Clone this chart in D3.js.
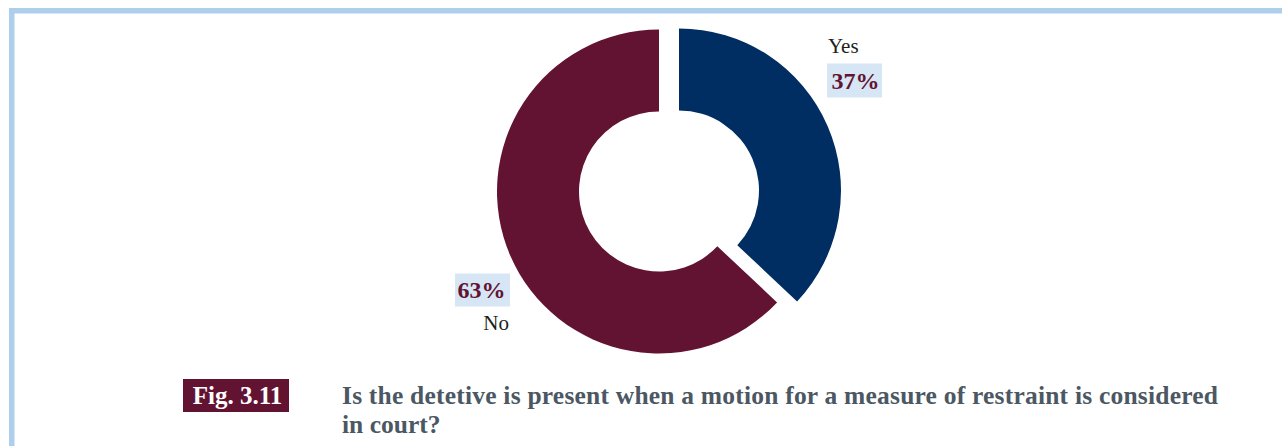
<!DOCTYPE html>
<html>
<head>
<meta charset="utf-8">
<script src="https://cdn.jsdelivr.net/npm/d3@7"></script>
<style>
  html, body { margin: 0; padding: 0; background: #ffffff; }
  svg { display: block; }
</style>
</head>
<body>
<svg id="chart" width="1282" height="446"></svg>
<script>
// Survey answers
const categories = ["Yes", "No"];
const values = [37, 63];
const valueLabels = ["37%", "63%"];
const sliceColors = ["#002e62", "#631332"];

const figureNumber = "Fig. 3.11";
const captionLines = [
  "Is the detetive is present when a motion for a measure of restraint is considered",
  "in court?"
];

const W = 1282, H = 446;
const svg = d3.select("#chart");
const serif = "'Liberation Serif', 'DejaVu Serif', serif";

// Page frame (top and left rules)
svg.append("rect").attr("x", 9).attr("y", 8).attr("width", W).attr("height", H)
  .attr("fill", "none").attr("stroke", "#aecfec").attr("stroke-width", 5.5)
  .attr("transform", "translate(2.75,2.75)");

// Donut
const cx = 659, cy = 191.5;
const outerR = 162, innerR = 80;
const explode = [[20, -1], [0, 0]];   // the "Yes" wedge is pulled out to the right

const pie = d3.pie().sort(null).value(d => d.value);
const arcs = pie(categories.map((c, i) => ({ cat: c, value: values[i], i })));
const arc = d3.arc().innerRadius(innerR).outerRadius(outerR);

const g = svg.append("g").attr("transform", `translate(${cx},${cy})`);
g.selectAll("path.slice").data(arcs).join("path")
  .attr("class", "slice")
  .attr("d", arc)
  .attr("fill", d => sliceColors[d.data.i])
  .attr("transform", d => `translate(${explode[d.data.i][0]},${explode[d.data.i][1]})`);

// Category labels with percentage badges
const labelSpec = [
  { name: { x: 828, y: 53, anchor: "start" }, pct: { x: 827, y: 63.5, w: 55, h: 34, tx: 831.5, ty: 88.5, anchor: "start" } },
  { name: { x: 509, y: 330, anchor: "end" },  pct: { x: 455, y: 273.5, w: 55, h: 33, tx: 505.5, ty: 297.5, anchor: "end" } }
];

categories.forEach((c, i) => {
  const s = labelSpec[i];
  svg.append("text").attr("x", s.name.x).attr("y", s.name.y)
    .attr("text-anchor", s.name.anchor)
    .attr("font-family", serif).attr("font-size", 21).attr("fill", "#231f20")
    .text(c);
  svg.append("rect").attr("x", s.pct.x).attr("y", s.pct.y)
    .attr("width", s.pct.w).attr("height", s.pct.h).attr("fill", "#d6e6f5");
  svg.append("text").attr("x", s.pct.tx).attr("y", s.pct.ty)
    .attr("text-anchor", s.pct.anchor)
    .attr("font-family", serif).attr("font-weight", "bold").attr("font-size", 24)
    .attr("fill", "#631332")
    .text(valueLabels[i]);
});

// Figure caption
svg.append("rect").attr("x", 183).attr("y", 379).attr("width", 106).attr("height", 33)
  .attr("fill", "#631332");
svg.append("text").attr("x", 237.5).attr("y", 403.5).attr("text-anchor", "middle")
  .attr("font-family", serif).attr("font-weight", "bold").attr("font-size", 25)
  .attr("fill", "#ffffff").text(figureNumber);

captionLines.forEach((line, k) => {
  const t = svg.append("text").attr("x", 342).attr("y", 404 + k * 29)
    .attr("font-family", serif).attr("font-weight", "bold").attr("font-size", 25.5)
    .attr("fill", "#4b5863").text(line);
  if (k === 0) t.attr("textLength", 876).attr("lengthAdjust", "spacing");
});
</script>
</body>
</html>
